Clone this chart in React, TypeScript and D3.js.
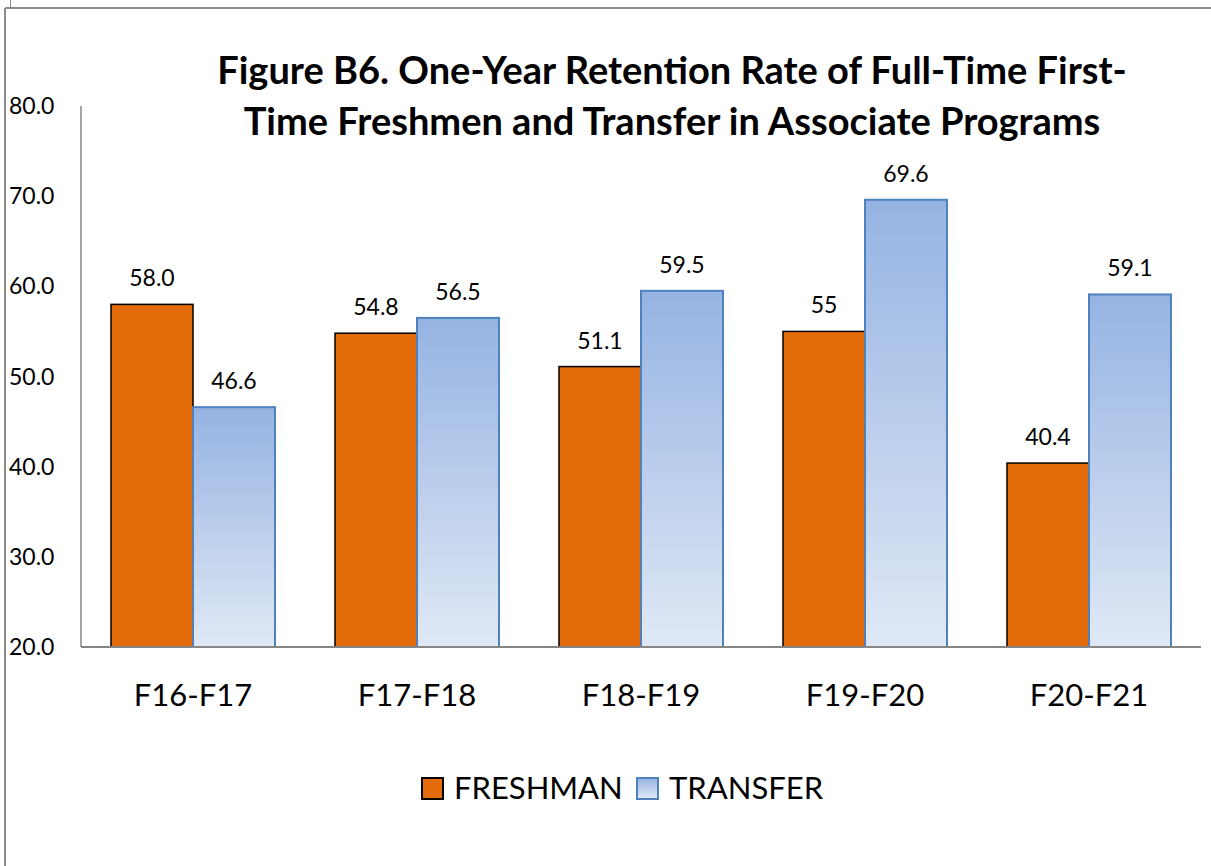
import React, { useRef, useEffect } from "react";
import * as d3 from "d3";

const WIDTH = 1211;
const HEIGHT = 866;

// chart data
const categories = ["F16-F17", "F17-F18", "F18-F19", "F19-F20", "F20-F21"];
const seriesNames = ["FRESHMAN", "TRANSFER"];
const freshman = [58.0, 54.8, 51.1, 55, 40.4];
const freshmanLabels = ["58.0", "54.8", "51.1", "55", "40.4"];
const transfer = [46.6, 56.5, 59.5, 69.6, 59.1];
const transferLabels = ["46.6", "56.5", "59.5", "69.6", "59.1"];
const yTicks = [20, 30, 40, 50, 60, 70, 80];

const FONT = "Lato, 'Noto Sans', sans-serif";

const App = () => {
  const svgRef = useRef<SVGSVGElement | null>(null);

  useEffect(() => {
    const svg = d3.select(svgRef.current);
    svg.selectAll("*").remove();

    const margin = { left: 81, top: 106 };
    const plotRight = 1201;
    const plotBottom = 647;

    const x0 = d3.scaleBand<string>()
      .domain(categories)
      .range([margin.left, plotRight])
      .padding(0);

    // bars sit 30px in from each side of their category
    const x1 = d3.scaleBand<string>()
      .domain(seriesNames)
      .range([30, x0.bandwidth() - 30])
      .padding(0);

    const y = d3.scaleLinear().domain([20, 80]).range([plotBottom, margin.top]);

    const defs = svg.append("defs");
    const grad = defs.append("linearGradient")
      .attr("id", "transferGrad")
      .attr("x1", 0).attr("y1", 0).attr("x2", 0).attr("y2", 1);
    grad.append("stop").attr("offset", "0%").attr("stop-color", "#95b3e2");
    grad.append("stop").attr("offset", "100%").attr("stop-color", "#e0e8f5");

    // outer frame
    svg.append("line")
      .attr("x1", 5).attr("x2", WIDTH).attr("y1", 8).attr("y2", 8)
      .attr("stroke", "#8c8c8c").attr("stroke-width", 2);
    svg.append("line")
      .attr("x1", 5).attr("x2", 5).attr("y1", 8).attr("y2", HEIGHT)
      .attr("stroke", "#8c8c8c").attr("stroke-width", 2);
    svg.append("line")
      .attr("x1", 10.5).attr("x2", 10.5).attr("y1", 0).attr("y2", 7)
      .attr("stroke", "#8c8c8c").attr("stroke-width", 1);

    // title
    const title = svg.append("text")
      .attr("text-anchor", "middle")
      .attr("font-family", FONT)
      .attr("font-weight", "bold")
      .attr("font-size", 38)
      .attr("fill", "#000");
    title.append("tspan").attr("x", 672).attr("y", 84)
      .text("Figure B6. One-Year Retention Rate of Full-Time First-");
    title.append("tspan").attr("x", 672).attr("y", 135)
      .text("Time Freshmen and Transfer in Associate Programs");

    // y tick labels
    svg.append("g")
      .selectAll("text")
      .data(yTicks)
      .enter()
      .append("text")
      .attr("x", 9)
      .attr("y", d => y(d))
      .attr("dy", "0.35em")
      .attr("font-family", FONT)
      .attr("font-size", 23)
      .attr("fill", "#000")
      .text(d => d.toFixed(1));

    const groups = svg.append("g")
      .selectAll("g")
      .data(categories)
      .enter()
      .append("g")
      .attr("transform", d => `translate(${x0(d)},0)`);

    // freshman bars
    groups.append("rect")
      .attr("x", x1("FRESHMAN")!)
      .attr("y", (d, i) => y(freshman[i]))
      .attr("width", x1.bandwidth())
      .attr("height", (d, i) => plotBottom - y(freshman[i]))
      .attr("fill", "#e46c0a")
      .attr("stroke", "#000")
      .attr("stroke-width", 1.5);

    // transfer bars
    groups.append("rect")
      .attr("x", x1("TRANSFER")!)
      .attr("y", (d, i) => y(transfer[i]))
      .attr("width", x1.bandwidth())
      .attr("height", (d, i) => plotBottom - y(transfer[i]))
      .attr("fill", "url(#transferGrad)")
      .attr("stroke", "#4f81bd")
      .attr("stroke-width", 2);

    // value labels
    groups.append("text")
      .attr("x", x1("FRESHMAN")! + x1.bandwidth() / 2)
      .attr("y", (d, i) => y(freshman[i]) - 18)
      .attr("text-anchor", "middle")
      .attr("font-family", FONT)
      .attr("font-size", 23)
      .text((d, i) => freshmanLabels[i]);
    groups.append("text")
      .attr("x", x1("TRANSFER")! + x1.bandwidth() / 2)
      .attr("y", (d, i) => y(transfer[i]) - 18)
      .attr("text-anchor", "middle")
      .attr("font-family", FONT)
      .attr("font-size", 23)
      .text((d, i) => transferLabels[i]);

    // category labels
    groups.append("text")
      .attr("x", x0.bandwidth() / 2)
      .attr("y", 706)
      .attr("text-anchor", "middle")
      .attr("font-family", FONT)
      .attr("font-size", 31)
      .text(d => d);

    // axis lines
    svg.append("line")
      .attr("x1", margin.left).attr("x2", margin.left)
      .attr("y1", margin.top).attr("y2", plotBottom)
      .attr("stroke", "#868686").attr("stroke-width", 1.5);
    svg.append("line")
      .attr("x1", margin.left).attr("x2", plotRight)
      .attr("y1", plotBottom).attr("y2", plotBottom)
      .attr("stroke", "#868686").attr("stroke-width", 2);

    // legend
    const legendItems = [
      { name: seriesNames[0], x: 422, fill: "#e46c0a", stroke: "#000" },
      { name: seriesNames[1], x: 637, fill: "url(#transferGrad)", stroke: "#4f81bd" }
    ];
    const legend = svg.append("g")
      .selectAll("g")
      .data(legendItems)
      .enter()
      .append("g")
      .attr("transform", d => `translate(${d.x},778)`);
    legend.append("rect")
      .attr("width", 21).attr("height", 21)
      .attr("fill", d => d.fill)
      .attr("stroke", d => d.stroke)
      .attr("stroke-width", 2);
    legend.append("text")
      .attr("x", 32)
      .attr("y", 21)
      .attr("font-family", FONT)
      .attr("font-size", 31)
      .text(d => d.name);
  }, []);

  return (
    <div style={{ position: "absolute", left: 0, top: 0, width: WIDTH, height: HEIGHT, background: "#fff" }}>
      <svg ref={svgRef} width={WIDTH} height={HEIGHT} style={{ display: "block" }}></svg>
    </div>
  );
};

export default App;
